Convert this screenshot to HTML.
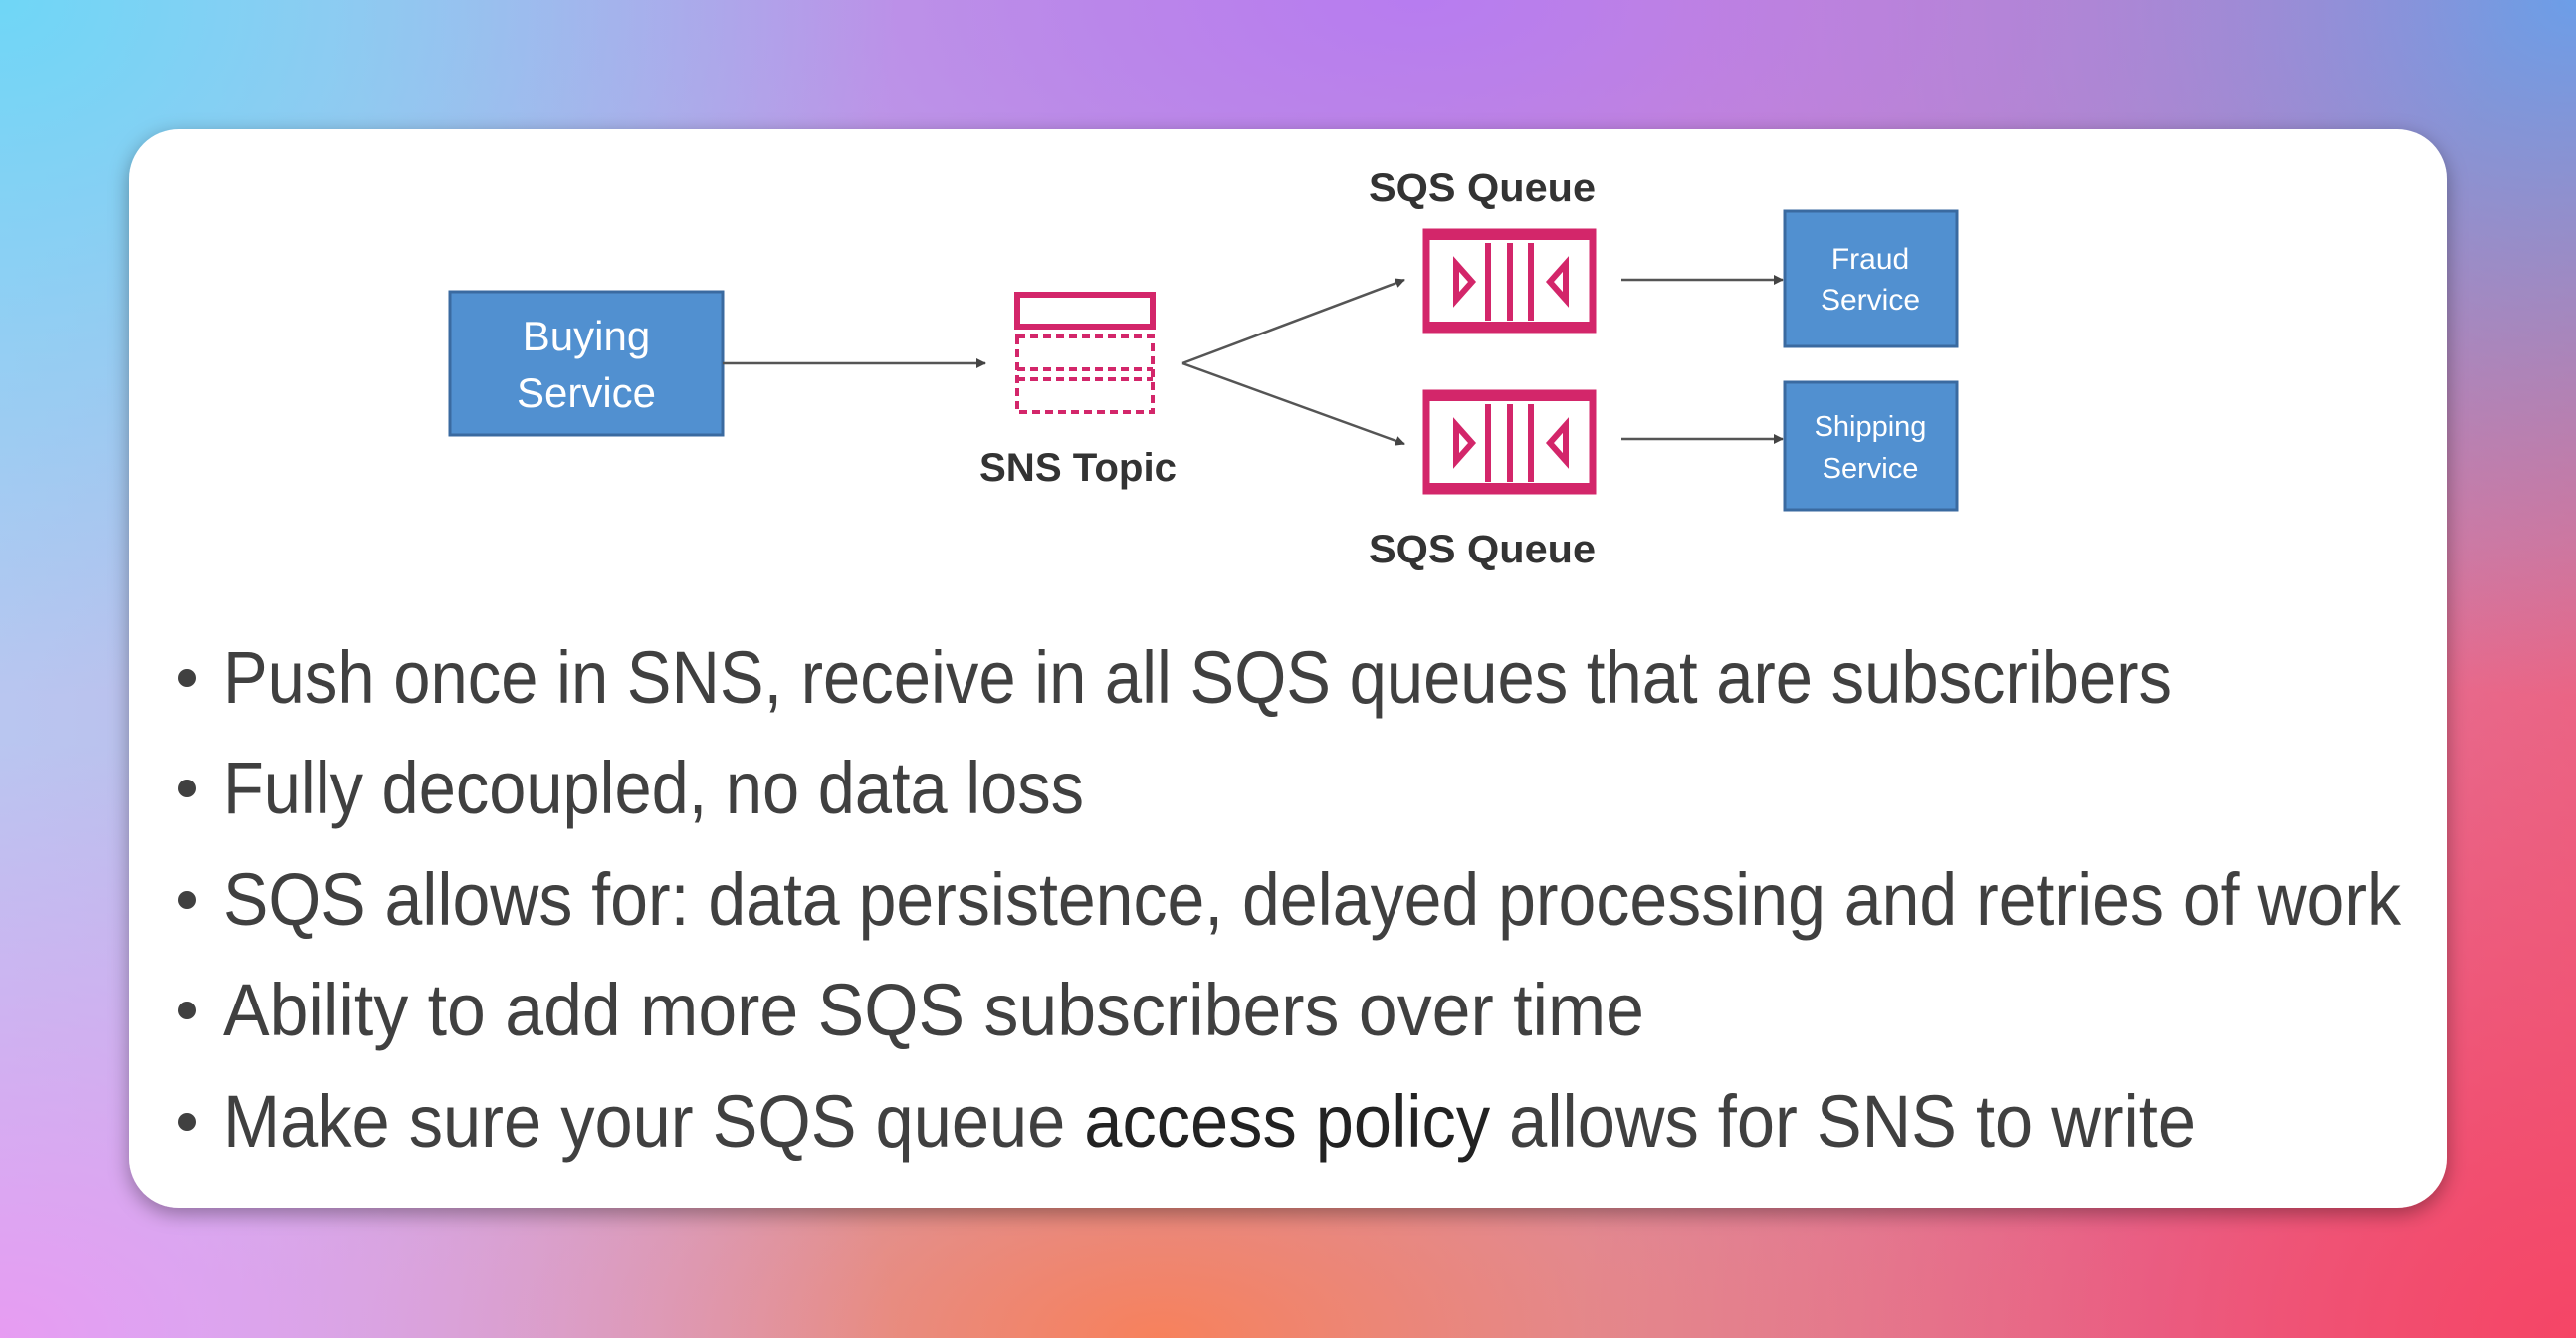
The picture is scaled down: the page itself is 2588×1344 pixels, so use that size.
<!DOCTYPE html>
<html><head><meta charset="utf-8"><style>
html,body{margin:0;padding:0;width:2588px;height:1344px;overflow:hidden}
body{background:
radial-gradient(ellipse 900px 700px at 0% 0%, #6fd6f6 0%, rgba(111,214,246,0) 100%),
radial-gradient(ellipse 1100px 500px at 55% 0%, #b77cf0 0%, rgba(183,124,240,0) 100%),
radial-gradient(ellipse 900px 700px at 100% 0%, #6c9ee8 0%, rgba(108,158,232,0) 100%),
radial-gradient(ellipse 900px 600px at 0% 100%, #e79cf2 0%, rgba(231,156,242,0) 100%),
radial-gradient(ellipse 1000px 500px at 45% 100%, #f7815c 0%, rgba(247,129,92,0) 100%),
radial-gradient(ellipse 1000px 800px at 100% 100%, #f54566 0%, rgba(245,69,102,0) 100%),
linear-gradient(90deg,#b9c6f0,#c49ad8,#e86c8c);}
svg{position:absolute;left:0;top:0}
</style></head><body>
<svg width="2588" height="1344" viewBox="0 0 2588 1344" xmlns="http://www.w3.org/2000/svg">
<defs>
<filter id="sh" x="-5%" y="-5%" width="110%" height="115%"><feDropShadow dx="0" dy="6" stdDeviation="10" flood-color="#000" flood-opacity="0.35"/></filter>
<marker id="ar" markerWidth="10" markerHeight="10" refX="9" refY="5" orient="auto" markerUnits="userSpaceOnUse"><path d="M0,0 L10,5 L0,10 z" fill="#444"/></marker>
</defs>
<rect x="130" y="130" width="2328" height="1083" rx="50" fill="#fff" filter="url(#sh)"/>
<g font-family="'Liberation Sans',sans-serif">
<!-- Buying -->
<rect x="452" y="293" width="274" height="144" fill="#5190d0" stroke="#3a6aa0" stroke-width="3"/>
<text x="589" y="352" font-size="42" fill="#fff" text-anchor="middle">Buying</text>
<text x="589" y="409" font-size="42" fill="#fff" text-anchor="middle">Service</text>
<line x1="726" y1="365" x2="990" y2="365" stroke="#555" stroke-width="2.5" marker-end="url(#ar)"/>
<!-- SNS -->
<rect x="1022" y="296" width="136" height="32" fill="none" stroke="#d3266a" stroke-width="6"/>
<rect x="1022" y="338" width="136" height="76" fill="none" stroke="#d3266a" stroke-width="4" stroke-dasharray="8,5"/>
<line x1="1022" y1="371" x2="1158" y2="371" stroke="#d3266a" stroke-width="4" stroke-dasharray="8,5"/>
<line x1="1022" y1="381" x2="1158" y2="381" stroke="#d3266a" stroke-width="4" stroke-dasharray="8,5"/>
<text x="1083" y="483" font-size="40" font-weight="bold" fill="#333" text-anchor="middle" textLength="198" lengthAdjust="spacingAndGlyphs">SNS Topic</text>
<line x1="1188" y1="365" x2="1411" y2="281" stroke="#555" stroke-width="2.5" marker-end="url(#ar)"/>
<line x1="1188" y1="365" x2="1411" y2="446" stroke="#555" stroke-width="2.5" marker-end="url(#ar)"/>
<!-- Queues -->
<text x="1489" y="202" font-size="40" font-weight="bold" fill="#333" text-anchor="middle" textLength="228" lengthAdjust="spacingAndGlyphs">SQS Queue</text>
<text x="1489" y="565" font-size="40" font-weight="bold" fill="#333" text-anchor="middle" textLength="228" lengthAdjust="spacingAndGlyphs">SQS Queue</text>
<g id="q1" fill="none" stroke="#d3266a">
<rect x="1433" y="233" width="167" height="98" stroke-width="7"/>
<line x1="1433" y1="236" x2="1600" y2="236" stroke-width="10"/>
<line x1="1433" y1="328" x2="1600" y2="328" stroke-width="10"/>
<path d="M1463,265 L1479,283 L1463,301 z" stroke-width="6"/>
<path d="M1573,265 L1557,283 L1573,301 z" stroke-width="6"/>
<line x1="1495" y1="244" x2="1495" y2="322" stroke-width="6"/>
<line x1="1517" y1="244" x2="1517" y2="322" stroke-width="6"/>
<line x1="1538" y1="244" x2="1538" y2="322" stroke-width="6"/>
</g>
<use href="#q1" transform="translate(0,162)"/>
<line x1="1629" y1="281" x2="1791" y2="281" stroke="#555" stroke-width="2.5" marker-end="url(#ar)"/>
<line x1="1629" y1="441" x2="1791" y2="441" stroke="#555" stroke-width="2.5" marker-end="url(#ar)"/>
<!-- Fraud / Shipping -->
<rect x="1793" y="212" width="173" height="136" fill="#5190d0" stroke="#3a6aa0" stroke-width="3"/>
<text x="1879" y="270" font-size="30" fill="#fff" text-anchor="middle">Fraud</text>
<text x="1879" y="311" font-size="30" fill="#fff" text-anchor="middle">Service</text>
<rect x="1793" y="384" width="173" height="128" fill="#5190d0" stroke="#3a6aa0" stroke-width="3"/>
<text x="1879" y="438" font-size="29" fill="#fff" text-anchor="middle">Shipping</text>
<text x="1879" y="480" font-size="29" fill="#fff" text-anchor="middle">Service</text>
<!-- Bullets -->
<g font-size="74" fill="#404040">
<circle cx="188" cy="681" r="9"/><text x="224" y="706" textLength="1958" lengthAdjust="spacingAndGlyphs">Push once in SNS, receive in all SQS queues that are subscribers</text>
<circle cx="188" cy="792" r="9"/><text x="224" y="817" textLength="865" lengthAdjust="spacingAndGlyphs">Fully decoupled, no data loss</text>
<circle cx="188" cy="904" r="9"/><text x="224" y="929" textLength="2188" lengthAdjust="spacingAndGlyphs">SQS allows for: data persistence, delayed processing and retries of work</text>
<circle cx="188" cy="1015" r="9"/><text x="224" y="1040" textLength="1428" lengthAdjust="spacingAndGlyphs">Ability to add more SQS subscribers over time</text>
<circle cx="188" cy="1127" r="9"/><text x="224" y="1152" textLength="1982" lengthAdjust="spacingAndGlyphs">Make sure your SQS queue <tspan fill="#222">access policy</tspan> allows for SNS to write</text>
</g>
</g>
</svg>
</body></html>
